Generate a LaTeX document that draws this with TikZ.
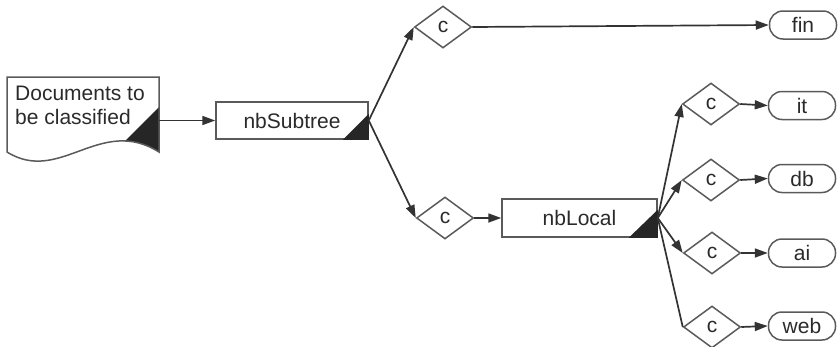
\documentclass[tikz,border=0pt]{standalone}
\usepackage{fontspec}
\setmainfont{Liberation Sans}
\usetikzlibrary{shapes.geometric,arrows.meta}
\definecolor{ink}{HTML}{2A2A2A}
\definecolor{edge}{HTML}{333333}
\definecolor{outline}{HTML}{5A5A5A}
\begin{document}
\begin{tikzpicture}[x=1pt,y=-1pt,
  font=\fontsize{21}{23.5}\selectfont, text=ink,
  box/.style={draw=outline, line width=1.5pt, rectangle, inner sep=0, minimum height=37},
  choice/.style={draw=outline, line width=1.5pt, diamond, aspect=1.35, inner sep=0,
    minimum width=57, minimum height=42, font=\fontsize{21}{24}\selectfont},
  leaf/.style={draw=outline, line width=1.5pt, rectangle, rounded corners=13.5,
    minimum width=67, minimum height=28, inner sep=0},
  flow/.style={draw=edge, line width=1.7pt, -{Triangle[length=13pt,width=9pt]}},
  plain/.style={draw=edge, line width=1.7pt},
  marker/.style={fill=black!85}
]
\useasboundingbox (0,0) rectangle (839,346);

% document shape with wavy bottom
\node[inner sep=0, minimum width=152, minimum height=75] (doc) at (83,114.5) {};
\begin{scope}
  \clip (7,77) -- (159,77) -- (159,152) .. controls (100,115) and (60,185) .. (7,152) -- cycle;
  \fill[marker] (159,107) -- (109,157) -- (170,170) -- (170,100) -- cycle;
\end{scope}
\draw[outline, line width=1.5pt] (7,77) -- (159,77) -- (159,152)
  .. controls (100,115) and (60,185) .. (7,152) -- cycle;
\node[anchor=north west, align=left, inner sep=0] (doctext) at (15,86) {Documents to\\be classified};

% processing boxes
\node[box, minimum width=152] (sub) at (292,120.5) {nbSubtree};
\fill[marker] (sub.south east) -- ++(-26,0) -- ++(26,-26) -- cycle;
\node[box, minimum width=155, minimum height=38] (local) at (579.5,218) {nbLocal};
\fill[marker] (local.south east) -- ++(-29,0) -- ++(29,-28) -- cycle;

% decisions
\node[choice] (c1) at (443,27) {c};
\node[choice] (c2) at (445,218) {c};
\node[choice] (c3) at (711,104) {c};
\node[choice] (c4) at (711,180) {c};
\node[choice] (c5) at (712,253) {c};
\node[choice] (c6) at (712,327) {c};

% categories
\node[leaf] (fin) at (803,25) {fin};
\node[leaf] (it) at (802,105.5) {it};
\node[leaf] (db) at (802,178.5) {db};
\node[leaf] (ai) at (802,253) {ai};
\node[leaf] (web) at (802,326) {web};

% connectors
\draw[flow] (doc.east |- sub.west) -- (sub.west);
\draw[flow] (sub.east) -- (c1.west);
\draw[flow] (sub.east) -- (c2.west);
\draw[flow] (c1.east) -- (fin.west);
\draw[flow] (c2.east) -- (local.west);
\draw[flow] (local.east) -- (c3.west);
\draw[flow] (local.east) -- (c4.west);
\draw[flow] (local.east) -- (c5.west);
\draw[plain] (local.east) -- (c6.west);
\draw[flow] (c3.east) -- (it.west);
\draw[flow] (c4.east) -- (db.west);
\draw[flow] (c5.east) -- (ai.west);
\draw[flow] (c6.east) -- (web.west);
\end{tikzpicture}
\end{document}
